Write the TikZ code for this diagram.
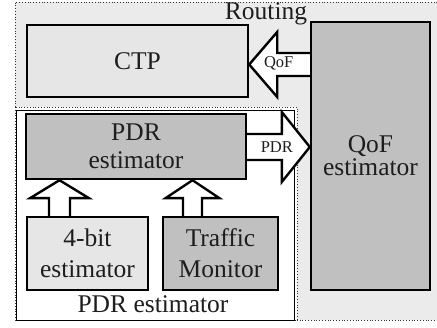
\documentclass[tikz,border=0pt]{standalone}
\usepackage{fontspec}
\setmainfont{Liberation Serif}
\usetikzlibrary{calc}
\definecolor{bgray}{HTML}{EBEBEB}
\definecolor{lgray}{HTML}{E6E6E6}
\definecolor{dgray}{HTML}{C0C0C0}
\definecolor{txt}{HTML}{1E1E1E}
\tikzset{
  blk/.style={draw=black, line width=2.4pt, rectangle, inner sep=0pt, align=center,
    text=txt, font=\fontsize{25.5}{28}\selectfont},
  light/.style={blk, fill=lgray},
  dark/.style={blk, fill=dgray},
  barrow/.style={draw=black, fill=white, line width=2.4pt, line join=miter},
  alabel/.style={text=txt, font=\fontsize{16.5}{18}\selectfont, inner sep=0pt},
  biglabel/.style={text=txt, font=\fontsize{25.5}{28}\selectfont, inner sep=0pt},
  region/.style={dotted, line width=0.8pt, draw=black!80},
}
\begin{document}
\begin{tikzpicture}[x=1pt,y=-1pt]
\useasboundingbox (0,0) rectangle (437,328);
% routing region
\fill[bgray] (15,2) rectangle (440,320);
\draw[region] (440,2) -- (15,2) -- (15,320) -- (440,320);
\node[biglabel, anchor=base] (routing) at (266,19.5) {Routing};
% PDR estimator region
\filldraw[region, fill=white] (15,107) rectangle (297,320);
\draw[line width=0.9pt, black] (16,110) rectangle (294,320);
\node[biglabel, anchor=base] (pdrlbl) at (153,313) {PDR estimator};
% boxes
\node[light, minimum width=221pt, minimum height=72pt] (ctp) at (137.5,61) {CTP};
\node[dark, minimum width=119pt, minimum height=268pt] (qof) at (370.5,156) {QoF\\[-5pt]estimator};
\node[dark, minimum width=220pt, minimum height=65pt] (pdr) at (136,146.5) {PDR\\estimator};
\node[light, minimum width=121pt, minimum height=73pt] (four) at (87.5,253.5) {4-bit\\[3pt]estimator};
\node[dark, minimum width=115pt, minimum height=73pt] (traffic) at (220.5,253.5) {Traffic\\[3pt]Monitor};
% QoF arrow (qof -> ctp)
\coordinate (qt) at (ctp.east |- 0,64.5);
\filldraw[barrow] ($(qof.west |- qt)+(0,-11.5)$) -- ($(qt)+(28,-11.5)$) -- ($(qt)+(28,-32.5)$)
  -- (qt) -- ($(qt)+(28,32.5)$) -- ($(qt)+(28,11.5)$) -- ($(qof.west |- qt)+(0,11.5)$);
\node[alabel] (qlbl) at ($(qt)+(29.5,-1)$) {QoF};
% PDR arrow (pdr -> qof)
\coordinate (pt) at (qof.west |- 0,147);
\filldraw[barrow] ($(pdr.east |- pt)+(0,-13)$) -- ($(pt)+(-28,-13)$) -- ($(pt)+(-28,-35)$)
  -- (pt) -- ($(pt)+(-28,35)$) -- ($(pt)+(-28,13)$) -- ($(pdr.east |- pt)+(0,13)$);
\node[alabel] (plbl) at ($(pt)+(-33,0)$) {PDR};
% up arrows
\coordinate (u1) at (59.5,0 |- pdr.south);
\filldraw[barrow] ($(u1 |- four.north)+(-10.5,0)$) -- ($(u1)+(-10.5,18)$) -- ($(u1)+(-29.5,18)$)
  -- (u1) -- ($(u1)+(29.5,18)$) -- ($(u1)+(10.5,18)$) -- ($(u1 |- four.north)+(10.5,0)$);
\coordinate (u2) at (192.5,0 |- pdr.south);
\filldraw[barrow] ($(u2 |- traffic.north)+(-9.5,0)$) -- ($(u2)+(-9.5,18)$) -- ($(u2)+(-27,18)$)
  -- (u2) -- ($(u2)+(27,18)$) -- ($(u2)+(9.5,18)$) -- ($(u2 |- traffic.north)+(9.5,0)$);
\end{tikzpicture}
\end{document}
